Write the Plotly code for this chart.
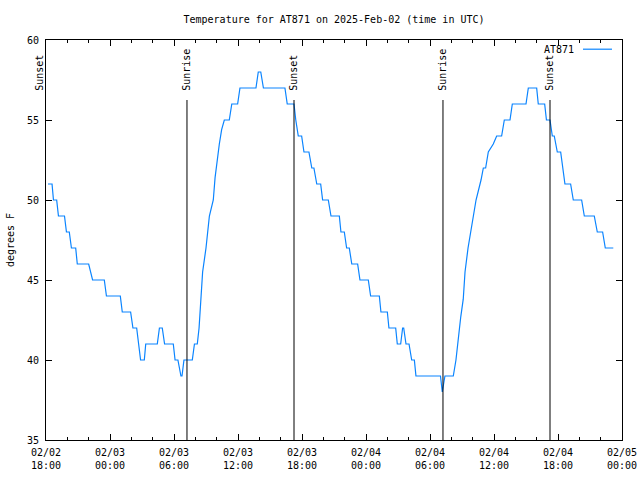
import plotly.graph_objects as go

# Temperature series (°F)
times = [
    "2025-02-02 18:11", "2025-02-02 18:34", "2025-02-02 18:42", "2025-02-02 19:00",
    "2025-02-02 19:10", "2025-02-02 19:44", "2025-02-02 19:55", "2025-02-02 20:11",
    "2025-02-02 20:23", "2025-02-02 20:47", "2025-02-02 20:56", "2025-02-02 22:00",
    "2025-02-02 22:22", "2025-02-02 23:28", "2025-02-02 23:40", "2025-02-03 00:58",
    "2025-02-03 01:09", "2025-02-03 01:56", "2025-02-03 02:09", "2025-02-03 02:30",
    "2025-02-03 02:52", "2025-02-03 03:13", "2025-02-03 03:21", "2025-02-03 04:26",
    "2025-02-03 04:38", "2025-02-03 04:54", "2025-02-03 05:07", "2025-02-03 05:56",
    "2025-02-03 06:06", "2025-02-03 06:22", "2025-02-03 06:39", "2025-02-03 06:45",
    "2025-02-03 06:56", "2025-02-03 07:43", "2025-02-03 07:55", "2025-02-03 08:11",
    "2025-02-03 08:21", "2025-02-03 08:28", "2025-02-03 08:41", "2025-02-03 09:00",
    "2025-02-03 09:19", "2025-02-03 09:41", "2025-02-03 09:51", "2025-02-03 10:15",
    "2025-02-03 10:28", "2025-02-03 10:43", "2025-02-03 11:11", "2025-02-03 11:25",
    "2025-02-03 11:58", "2025-02-03 12:11", "2025-02-03 13:41", "2025-02-03 13:54",
    "2025-02-03 14:08", "2025-02-03 14:23", "2025-02-03 16:24", "2025-02-03 16:37",
    "2025-02-03 17:15", "2025-02-03 17:25", "2025-02-03 17:39", "2025-02-03 17:58",
    "2025-02-03 18:11", "2025-02-03 18:39", "2025-02-03 18:55", "2025-02-03 19:07",
    "2025-02-03 19:23", "2025-02-03 19:45", "2025-02-03 19:56", "2025-02-03 20:28",
    "2025-02-03 20:43", "2025-02-03 21:30", "2025-02-03 21:39", "2025-02-03 21:58",
    "2025-02-03 22:11", "2025-02-03 22:26", "2025-02-03 22:40", "2025-02-03 23:13",
    "2025-02-03 23:26", "2025-02-04 00:13", "2025-02-04 00:26", "2025-02-04 01:15",
    "2025-02-04 01:24", "2025-02-04 02:00", "2025-02-04 02:09", "2025-02-04 02:47",
    "2025-02-04 02:56", "2025-02-04 03:15", "2025-02-04 03:26", "2025-02-04 03:32",
    "2025-02-04 03:45", "2025-02-04 04:02", "2025-02-04 04:17", "2025-02-04 04:32",
    "2025-02-04 04:41", "2025-02-04 06:59", "2025-02-04 07:09", "2025-02-04 07:24",
    "2025-02-04 08:11", "2025-02-04 08:26", "2025-02-04 08:39", "2025-02-04 08:53",
    "2025-02-04 09:07", "2025-02-04 09:17", "2025-02-04 09:34", "2025-02-04 09:56",
    "2025-02-04 10:19", "2025-02-04 10:47", "2025-02-04 11:00", "2025-02-04 11:13",
    "2025-02-04 11:28", "2025-02-04 11:56", "2025-02-04 12:15", "2025-02-04 12:43",
    "2025-02-04 12:58", "2025-02-04 13:30", "2025-02-04 13:43", "2025-02-04 15:00",
    "2025-02-04 15:13", "2025-02-04 16:00", "2025-02-04 16:09", "2025-02-04 16:45",
    "2025-02-04 16:55", "2025-02-04 17:15", "2025-02-04 17:28", "2025-02-04 17:39",
    "2025-02-04 17:56", "2025-02-04 18:15", "2025-02-04 18:28", "2025-02-04 18:39",
    "2025-02-04 19:11", "2025-02-04 19:26", "2025-02-04 20:13", "2025-02-04 20:28",
    "2025-02-04 21:24", "2025-02-04 21:41", "2025-02-04 22:11", "2025-02-04 22:26",
    "2025-02-04 23:11",
]
temps = [
    51, 51, 50, 50, 49, 49, 48, 48, 47, 47, 46, 46,
    45, 45, 44, 44, 43, 43, 42, 42, 40, 40, 41, 41,
    42, 42, 41, 41, 40, 40, 39, 39, 40, 40, 41, 41,
    42, 43.5, 45.5, 47, 49, 50, 51.4, 53.5, 54.4, 55, 55, 56,
    56, 57, 57, 58, 58, 57, 57, 56, 56, 55, 54, 54,
    53, 53, 52, 52, 51, 51, 50, 50, 49, 49, 48, 48,
    47, 47, 46, 46, 45, 45, 44, 44, 43, 43, 42, 42,
    41, 41, 42, 42, 41, 41, 40, 40, 39, 39, 38, 39,
    39, 40, 41.5, 42.7, 43.8, 45.5, 47, 48.5, 50, 51.25, 52, 52,
    53, 53.5, 54, 54, 55, 55, 56, 56, 57, 57, 56, 56,
    55, 55, 54, 54, 53, 53, 52, 51, 51, 50, 50, 49,
    49, 48, 48, 47, 47,
]

# Sun events
event_times = ["2025-02-03 07:13", "2025-02-03 17:15", "2025-02-04 07:13", "2025-02-04 17:15"]
event_labels = ["Sunrise", "Sunset", "Sunrise", "Sunset"]
first_sunset_label = "Sunset"

# Axis ticks
x_start = "2025-02-02 18:00"
x_end = "2025-02-05 00:00"
tick_vals = ["2025-02-02 18:00", "2025-02-03 00:00", "2025-02-03 06:00", "2025-02-03 12:00",
             "2025-02-03 18:00", "2025-02-04 00:00", "2025-02-04 06:00", "2025-02-04 12:00",
             "2025-02-04 18:00", "2025-02-05 00:00"]
tick_text = ["02/02<br>18:00", "02/03<br>00:00", "02/03<br>06:00", "02/03<br>12:00",
             "02/03<br>18:00", "02/04<br>00:00", "02/04<br>06:00", "02/04<br>12:00",
             "02/04<br>18:00", "02/05<br>00:00"]
y_ticks = [35, 40, 45, 50, 55, 60]

FONT = "DejaVu Sans Mono"
LINE_COLOR = "#0a84ff"

fig = go.Figure()
fig.add_trace(go.Scatter(x=times, y=temps, mode="lines", name="AT871",
                         line=dict(color=LINE_COLOR, width=1.2), showlegend=False,
                         hoverinfo="skip"))

for t, lab in zip(event_times, event_labels):
    fig.add_shape(type="line", xref="x", yref="y", x0=t, x1=t, y0=35, y1=56.25,
                  line=dict(color="black", width=1))
    fig.add_annotation(x=t, xref="x", y=0.868, yref="paper", text=lab, textangle=-90,
                       showarrow=False, xanchor="center", yanchor="bottom",
                       font=dict(family=FONT, size=10, color="black"))
fig.add_annotation(x=x_start, xref="x", y=0.868, yref="paper", text=first_sunset_label,
                   textangle=-90, showarrow=False, xanchor="center", yanchor="bottom",
                   xshift=-6, font=dict(family=FONT, size=10, color="black"))

# legend (text then line sample, gnuplot style)
fig.add_annotation(x=0.921, xref="paper", y=0.977, yref="paper", text="AT871",
                   showarrow=False, xanchor="right", yanchor="middle",
                   font=dict(family=FONT, size=10, color="black"))
fig.add_shape(type="line", xref="paper", yref="paper", x0=0.9323, x1=0.9826,
              y0=0.977, y1=0.977, line=dict(color=LINE_COLOR, width=1.2))

fig.update_layout(
    width=640, height=480,
    margin=dict(l=46, r=18, t=40, b=40, autoexpand=False),
    paper_bgcolor="white", plot_bgcolor="white",
    font=dict(family=FONT, size=10, color="black"),
    title=dict(text="Temperature for AT871 on 2025-Feb-02 (time in UTC)",
               x=0.5, xref="paper", y=1 - 19 / 480, yanchor="middle",
               font=dict(family=FONT, size=10, color="black")),
    xaxis=dict(range=[x_start, x_end], tickvals=tick_vals, ticktext=tick_text,
               ticks="inside", ticklen=6, tickcolor="black", showline=True,
               linecolor="black", linewidth=1, mirror="ticks", showgrid=False,
               zeroline=False, automargin=False, ticklabelstandoff=3,
               minor=dict(dtick=2 * 3600 * 1000, ticks="inside", ticklen=3,
                          tickcolor="black", showgrid=False)),
    yaxis=dict(range=[35, 60], tickvals=y_ticks, ticks="inside", ticklen=6,
               tickcolor="black", showline=True, linecolor="black", linewidth=1,
               mirror="ticks", showgrid=False, zeroline=False, automargin=False,
               ticklabelstandoff=4,
               title=dict(text="degrees F", standoff=10,
                          font=dict(family=FONT, size=10, color="black"))),
    hovermode=False,
)

fig.write_html("out.html", config={"displayModeBar": False},
               post_script="document.body.style.margin='0';")
